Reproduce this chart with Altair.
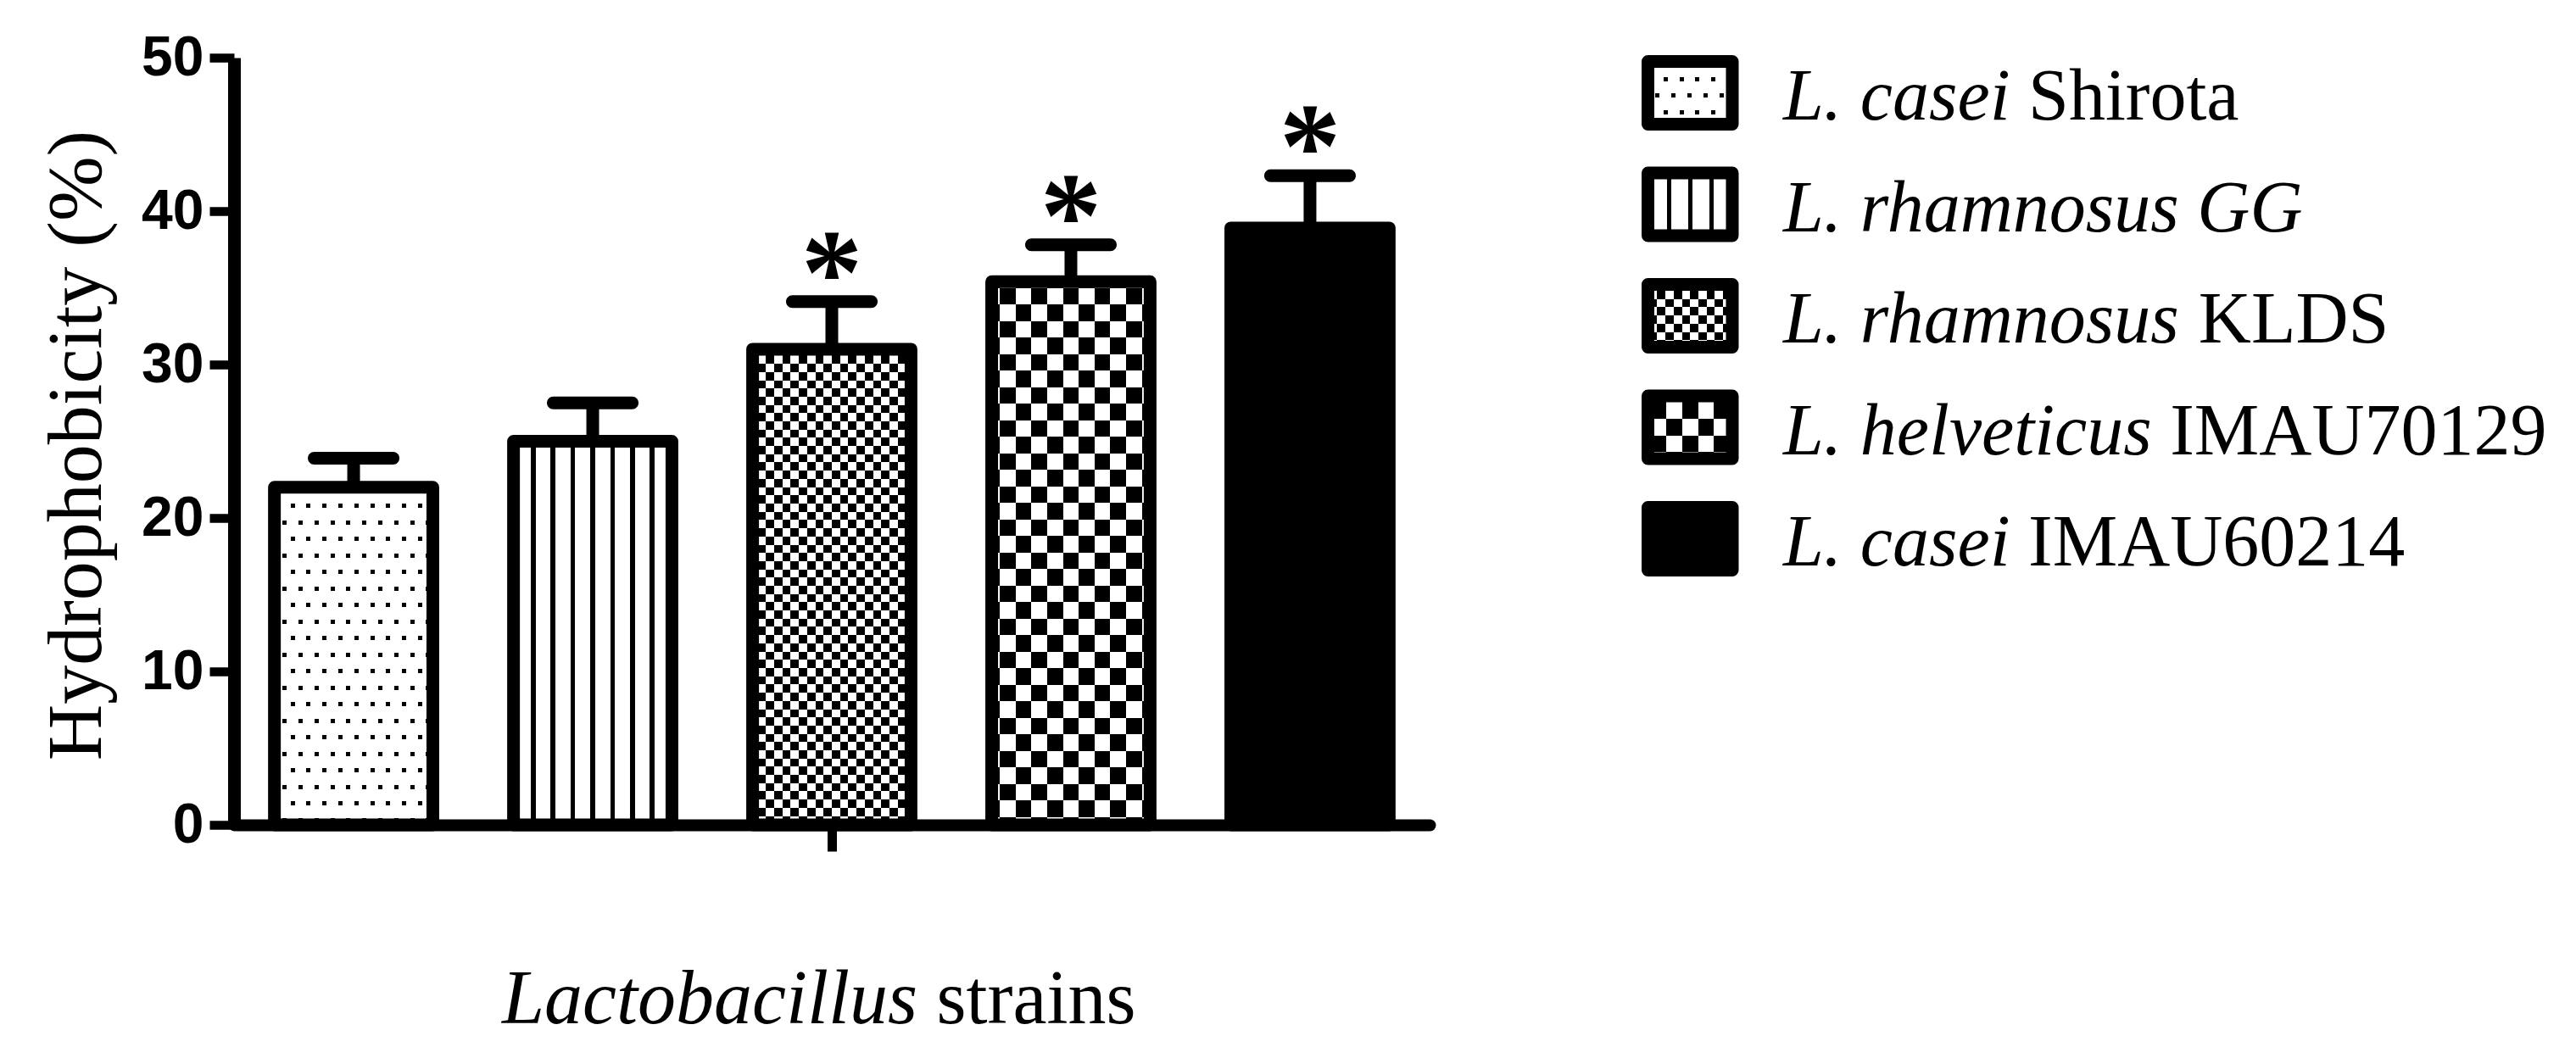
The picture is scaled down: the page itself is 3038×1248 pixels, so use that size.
import math
import altair as alt
import pandas as pd

# ---------------- data ----------------
strains = ["L. casei Shirota", "L. rhamnosus GG", "L. rhamnosus KLDS",
           "L. helveticus IMAU70129", "L. casei IMAU60214"]
name_italic = ["L. casei", "L. rhamnosus GG", "L. rhamnosus", "L. helveticus", "L. casei"]
name_roman = ["Shirota", "", "KLDS", "IMAU70129", "IMAU60214"]
hydrophobicity = [22.0, 25.0, 31.0, 35.4, 38.9]
error_upper = [23.9, 27.5, 34.1, 37.8, 42.3]
significance = ["", "", "*", "*", "*"]
y_ticks = [0, 10, 20, 30, 40, 50]
y_title = "Hydrophobicity (%)"
x_title_italic = "Lactobacillus"
x_title_roman = "strains"
patterns = ["dots", "stripes", "fine", "coarse", "solid"]

df = pd.DataFrame({"strain": strains, "value": hydrophobicity, "err": error_upper,
                   "sig": significance, "italic": name_italic, "roman": name_roman})

# ---------------- layout ----------------
W, H = 1410, 905
Y_MAX = 50
PI, PO = 0.3375, 0.169
STEP = W / (len(strains) - PI + 2 * PO)
BW = STEP * (1 - PI)
STROKE = 15

LEG_X0, LEG_X1 = 1667.5, 1767.0
LEG_W = LEG_X1 - LEG_X0
LEG_STEP, LEG_H, LEG_TOP = 131.5, 74.0, 4.5
LEG_PI = 1 - LEG_H / LEG_STEP
LEG_RANGE = [LEG_TOP, LEG_TOP + LEG_STEP * (len(strains) - LEG_PI)]
LEG_TEXT_X = 1827
LEG_FS = 86
XT_FS = 90

ITALIC_W = {'L': 0.556, '.': 0.25, ' ': 0.25, 'c': 0.444, 'a': 0.5, 's': 0.389, 'e': 0.444,
            'i': 0.278, 'r': 0.389, 'h': 0.5, 'm': 0.722, 'n': 0.5, 'o': 0.5, 'u': 0.5,
            'l': 0.278, 'v': 0.444, 't': 0.278, 'G': 0.722, 'b': 0.5}


def italic_width(s):
    return sum(ITALIC_W.get(ch, 0.5) for ch in s)


# ---------------- pattern fills (gradients + blend modes) ----------------
def stops_from(intervals, length):
    stops = [alt.GradientStop(color="white", offset=0)]
    last = 0.0
    for a, b in sorted(intervals):
        a = max(last, a / length)
        b = min(1.0, b / length)
        if b <= a:
            continue
        a, b = round(a, 5), round(b, 5)
        stops += [alt.GradientStop(color="white", offset=a), alt.GradientStop(color="black", offset=a),
                  alt.GradientStop(color="black", offset=b), alt.GradientStop(color="white", offset=b)]
        last = b
    stops.append(alt.GradientStop(color="white", offset=1))
    return stops


def centered(c0, period, width, length):
    kmin = math.floor((-width - c0) / period) - 1
    kmax = math.ceil((length + width - c0) / period) + 1
    return [(c0 + k * period - width / 2, c0 + k * period + width / 2) for k in range(kmin, kmax + 1)]


def checker(c0, s, length):
    kmin = math.floor(-c0 / (2 * s)) - 1
    kmax = math.ceil((length - c0) / (2 * s)) + 1
    return [(c0 + 2 * k * s, c0 + (2 * k + 1) * s) for k in range(kmin, kmax + 1)]


def grad_x(intervals, length):
    return alt.LinearGradient(gradient="linear", stops=stops_from(intervals, length), x1=0, y1=0, x2=1, y2=0)


def grad_y(intervals, length):
    return alt.LinearGradient(gradient="linear", stops=stops_from(intervals, length), x1=0, y1=0, x2=0, y2=1)


def grad_diag(wb, hb, x0, y0, a, period, width):
    D = wb + a * hb
    fmin = -x0 - a * (hb - y0)
    A, B = wb / D, -a * hb / D
    n2 = A * A + B * B
    dx, dy = A / n2, B / n2
    ints = centered(-fmin, period, width, D)
    return alt.LinearGradient(gradient="linear", stops=stops_from(ints, D), x1=0, y1=1, x2=dx, y2=1 + dy)


def pattern_fills(kind, wb, hb, legend):
    if kind == "dots":
        px, py, w = 18.8, 19.5, 5.0
        x0 = 20.8 if legend else wb / 2 + 3.3
        y0 = 20.8 if legend else 21.8
        a = (px / 2) / py
        return [(grad_x(centered(x0, px / 2, w, wb), wb), None),
                (grad_y(centered(y0, py, w, hb), hb), "lighten"),
                (grad_diag(wb, hb, x0, y0, a, px, px / 2), "lighten")]
    if kind == "stripes":
        period = 25.1 if legend else 23.4
        lw = 5.0 if legend else 5.7
        return [(grad_x(centered(wb / 2, period, lw, wb), wb), None)]
    if kind == "fine":
        s = 9.7
        return [(grad_x(checker(wb / 2, s, wb), wb), None),
                (grad_y(checker(7.5, s, hb), hb), "difference")]
    if kind == "coarse":
        sx, sy = 18.6, 19.5
        return [(grad_x(checker(wb / 2 - sx / 2, sx, wb), wb), None),
                (grad_y(checker(7.5, sy, hb), hb), "difference")]
    return [("black", None)]


# ---------------- encodings ----------------
xaxis = alt.Axis(values=[strains[2]], labels=False, title=None, grid=False,
                 domainColor="black", domainWidth=14, domainCap="round",
                 tickColor="black", tickWidth=11, tickSize=31)
yaxis = alt.Axis(values=y_ticks, grid=False, domainColor="black", domainWidth=15,
                 tickColor="black", tickWidth=10.5, tickSize=29,
                 labelFont="Liberation Sans", labelFontWeight="bold", labelFontSize=66,
                 labelColor="black", labelPadding=7,
                 title=y_title, titleFont="Liberation Serif", titleFontWeight="normal",
                 titleFontSize=92, titleColor="black", titleX=-158, titleY=457,
                 titleAngle=270, titleAlign="center", titleBaseline="alphabetic")
x_enc = alt.X("strain:N", sort=strains,
              scale=alt.Scale(domain=strains, paddingInner=PI, paddingOuter=PO), axis=xaxis)
y_scale = alt.Scale(domain=[0, Y_MAX], nice=False, zero=True)
y_val = alt.Y("value:Q", scale=y_scale, axis=yaxis)
y_err = alt.Y("err:Q", scale=y_scale, axis=yaxis)

base = alt.Chart(df)

# ---------------- bars ----------------
bar_layers = []
for i, kind in enumerate(patterns):
    hb = hydrophobicity[i] / Y_MAX * H
    for fill, blend in pattern_fills(kind, BW, hb, False):
        props = {"fill": fill}
        if blend:
            props["blend"] = blend
        bar_layers.append(base.transform_filter(alt.datum.strain == strains[i])
                          .mark_bar(**props).encode(x=x_enc, y=y_val))

outline = base.mark_bar(fillOpacity=0, stroke="black", strokeWidth=STROKE,
                        strokeJoin="round").encode(x=x_enc, y=y_val)
stems = base.mark_rule(color="black", strokeWidth=15).encode(x=x_enc, y=y_val, y2="err:Q")
caps = base.mark_tick(orient="horizontal", size=108, thickness=15, cornerRadius=7.5,
                      color="black", opacity=1).encode(x=x_enc, y=y_err)
stars = base.mark_text(font="Liberation Serif", fontSize=145, fontWeight="bold",
                       baseline="alphabetic", dy=14, color="black").encode(
    x=x_enc, y=y_err, text="sig:N")

bar_group = alt.layer(*bar_layers, outline, stems, caps, stars)

# ---------------- legend ----------------
leg_scale = alt.Scale(type="band", domain=strains, range=LEG_RANGE,
                      paddingInner=LEG_PI, paddingOuter=0)
leg_y = alt.Y("strain:N", sort=strains, scale=leg_scale, axis=None)
leg_yt = alt.Y("strain:N", sort=strains, scale=leg_scale, axis=None, bandPosition=0.5)

leg_layers = []
for i, kind in enumerate(patterns):
    for fill, blend in pattern_fills(kind, LEG_W, LEG_H, True):
        props = {"fill": fill}
        if blend:
            props["blend"] = blend
        leg_layers.append(base.transform_filter(alt.datum.strain == strains[i])
                          .mark_rect(**props)
                          .encode(y=leg_y, x=alt.value(LEG_X0), x2=alt.value(LEG_X1)))
leg_layers.append(base.mark_rect(fillOpacity=0, stroke="black", strokeWidth=STROKE,
                                 strokeJoin="round")
                  .encode(y=leg_y, x=alt.value(LEG_X0), x2=alt.value(LEG_X1)))
leg_layers.append(base.mark_text(font="Liberation Serif", fontStyle="italic", fontSize=LEG_FS,
                                 align="left", baseline="alphabetic", dy=31.5, color="black")
                  .encode(y=leg_yt, x=alt.value(LEG_TEXT_X), text="italic:N"))
for i in range(len(strains)):
    if not name_roman[i]:
        continue
    rx = LEG_TEXT_X + italic_width(name_italic[i] + " ") * LEG_FS
    leg_layers.append(base.transform_filter(alt.datum.strain == strains[i])
                      .mark_text(font="Liberation Serif", fontSize=LEG_FS, align="left",
                                 baseline="alphabetic", dy=31.5, color="black")
                      .encode(y=leg_yt, x=alt.value(rx), text="roman:N"))
legend_group = alt.layer(*leg_layers)

# ---------------- x-axis title (mixed italic / roman) ----------------
XT_X, XT_Y = 316, 1139
xt_it = alt.Chart(pd.DataFrame({"t": [x_title_italic]})).mark_text(
    font="Liberation Serif", fontStyle="italic", fontSize=XT_FS, align="left",
    baseline="alphabetic", color="black").encode(x=alt.value(XT_X), y=alt.value(XT_Y), text="t:N")
xt_ro = alt.Chart(pd.DataFrame({"t": [x_title_roman]})).mark_text(
    font="Liberation Serif", fontSize=XT_FS, align="left",
    baseline="alphabetic", color="black").encode(
    x=alt.value(XT_X + italic_width(x_title_italic + " ") * XT_FS), y=alt.value(XT_Y), text="t:N")

chart = alt.layer(bar_group, legend_group, xt_it, xt_ro).resolve_scale(
    y="independent"
).properties(
    width=W, height=H,
    padding={"left": 268, "top": 60, "right": 1330, "bottom": 255},
    autosize=alt.AutoSizeParams(type="none"),
    background="white",
).configure_view(stroke="transparent")

chart.save("out.html", embed_options={"renderer": "svg", "actions": False})
